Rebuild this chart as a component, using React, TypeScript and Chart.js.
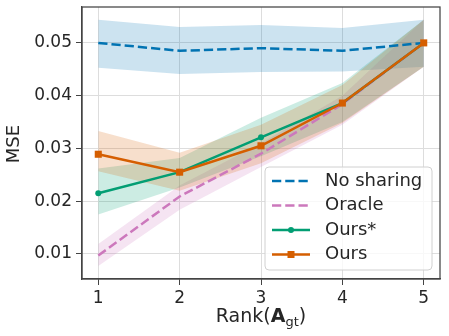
import React, { useEffect, useRef } from "react";
import { Chart, registerables } from "chart.js";

Chart.register(...registerables);

const ranks = [1, 2, 3, 4, 5];
const xTicks = [1, 2, 3, 4, 5];
const yTicks = [0.01, 0.02, 0.03, 0.04, 0.05];

const noSharing = [0.05, 0.0485, 0.049, 0.0485, 0.05];
const noSharingLo = [0.0453, 0.0441, 0.0445, 0.0446, 0.0455];
const noSharingHi = [0.0544, 0.053, 0.0534, 0.0528, 0.0544];

const oracle = [0.0097, 0.0209, 0.029, 0.0384, 0.05];
const oracleLo = [0.0077, 0.0184, 0.0265, 0.0345, 0.0455];
const oracleHi = [0.0119, 0.023, 0.031, 0.04, 0.0544];

const oursStar = [0.0215, 0.0255, 0.0321, 0.0386, 0.05];
const oursStarLo = [0.0175, 0.0226, 0.0285, 0.035, 0.0455];
const oursStarHi = [0.0262, 0.0282, 0.0358, 0.0424, 0.0544];

const ours = [0.0289, 0.0255, 0.0305, 0.0386, 0.05];
const oursLo = [0.0257, 0.022, 0.0272, 0.0348, 0.0455];
const oursHi = [0.0333, 0.0292, 0.0345, 0.042, 0.0544];

const labels = ["No sharing", "Oracle", "Ours*", "Ours"];
const colors = ["#0173b2", "#cc78bc", "#029e73", "#d55e00"];
const bandColors = [
  "rgba(1,115,178,0.2)",
  "rgba(204,120,188,0.2)",
  "rgba(2,158,115,0.2)",
  "rgba(213,94,0,0.2)",
];

const FONT = "DejaVu Sans";

const pts = (arr: number[]) => ranks.map((x, i) => ({ x, y: arr[i] }));

const decorPlugin = {
  id: "decor",
  afterDatasetsDraw(chart: any) {
    const { ctx, chartArea } = chart;
    ctx.save();
    ctx.strokeStyle = "#444444";
    ctx.lineWidth = 1.25;
    ctx.strokeRect(chartArea.left, chartArea.top, chartArea.right - chartArea.left, chartArea.bottom - chartArea.top);
    ctx.restore();
  },
  afterDraw(chart: any) {
    const { ctx } = chart;
    ctx.save();
    // legend box
    const bx = 265, by = 167, bw = 167, bh = 103, r = 4;
    ctx.beginPath();
    ctx.moveTo(bx + r, by);
    ctx.lineTo(bx + bw - r, by);
    ctx.arcTo(bx + bw, by, bx + bw, by + r, r);
    ctx.lineTo(bx + bw, by + bh - r);
    ctx.arcTo(bx + bw, by + bh, bx + bw - r, by + bh, r);
    ctx.lineTo(bx + r, by + bh);
    ctx.arcTo(bx, by + bh, bx, by + bh - r, r);
    ctx.lineTo(bx, by + r);
    ctx.arcTo(bx, by, bx + r, by, r);
    ctx.closePath();
    ctx.fillStyle = "rgba(255,255,255,0.8)";
    ctx.fill();
    ctx.strokeStyle = "#d0d0d0";
    ctx.lineWidth = 1;
    ctx.stroke();

    const rows = [181, 205.5, 230, 254.5];
    labels.forEach((lab, i) => {
      const y = rows[i];
      ctx.strokeStyle = colors[i];
      ctx.lineWidth = 2.5;
      ctx.setLineDash(i < 2 ? [9.25, 4] : []);
      ctx.beginPath();
      ctx.moveTo(272, y);
      ctx.lineTo(310, y);
      ctx.stroke();
      ctx.setLineDash([]);
      ctx.fillStyle = colors[i];
      if (i === 2) {
        ctx.beginPath();
        ctx.arc(291, y, 3, 0, Math.PI * 2);
        ctx.fill();
      } else if (i === 3) {
        ctx.fillRect(291 - 3.5, y - 3.5, 7, 7);
      }
      ctx.fillStyle = "#262626";
      ctx.font = `18px '${FONT}'`;
      ctx.textBaseline = "middle";
      ctx.textAlign = "left";
      ctx.fillText(lab, 325, y);
    });

    // x title: Rank(A_gt)
    const base = 322;
    const parts = [
      { t: "Rank(", f: `19px '${FONT}'`, dy: 0 },
      { t: "A", f: `bold 19px '${FONT}'`, dy: 0 },
      { t: "gt", f: `13px '${FONT}'`, dy: 4 },
      { t: ")", f: `19px '${FONT}'`, dy: 0 },
    ];
    let total = 0;
    parts.forEach((p) => {
      ctx.font = p.f;
      total += ctx.measureText(p.t).width;
    });
    let x = 261 - total / 2;
    ctx.fillStyle = "#262626";
    ctx.textBaseline = "alphabetic";
    ctx.textAlign = "left";
    parts.forEach((p) => {
      ctx.font = p.f;
      ctx.fillText(p.t, x, base + p.dy);
      x += ctx.measureText(p.t).width;
    });

    // y title
    ctx.save();
    ctx.translate(14, 144);
    ctx.rotate(-Math.PI / 2);
    ctx.font = `18px '${FONT}'`;
    ctx.textAlign = "center";
    ctx.textBaseline = "middle";
    ctx.fillText("MSE", 0, 0);
    ctx.restore();

    ctx.restore();
  },
};

export default function App() {
  const ref = useRef<HTMLCanvasElement>(null);

  useEffect(() => {
    if (!ref.current) return;
    Chart.defaults.font.family = FONT;
    const means = [noSharing, oracle, oursStar, ours];
    const los = [noSharingLo, oracleLo, oursStarLo, oursLo];
    const his = [noSharingHi, oracleHi, oursStarHi, oursHi];
    const datasets: any[] = [];
    means.forEach((m, i) => {
      datasets.push({
        label: labels[i] + " lo",
        data: pts(los[i]),
        borderWidth: 0,
        pointRadius: 0,
        fill: false,
        order: 20 - i * 2,
      });
      datasets.push({
        label: labels[i] + " hi",
        data: pts(his[i]),
        borderWidth: 0,
        pointRadius: 0,
        backgroundColor: bandColors[i],
        fill: "-1",
        order: 19 - i * 2,
      });
    });
    means.forEach((m, i) => {
      datasets.push({
        label: labels[i],
        data: pts(m),
        borderColor: colors[i],
        backgroundColor: colors[i],
        borderWidth: 2.5,
        borderDash: i < 2 ? [9.25, 4] : [],
        pointRadius: i === 2 ? 3 : i === 3 ? 5 : 0,
        pointStyle: i === 3 ? "rect" : "circle",
        pointBorderWidth: 0,
        fill: false,
        order: 4 - i,
      });
    });

    const chart = new Chart(ref.current, {
      type: "line",
      data: { datasets },
      plugins: [decorPlugin],
      options: {
        animation: false,
        responsive: false,
        layout: { padding: { top: 7, right: 9, left: 0, bottom: 0 } },
        plugins: {
          legend: { display: false },
          tooltip: { enabled: false },
          filler: { drawTime: "beforeDatasetsDraw" },
        } as any,
        scales: {
          x: {
            type: "linear",
            min: 0.8,
            max: 5.2,
            afterBuildTicks: (s: any) => {
              s.ticks = xTicks.map((v) => ({ value: v }));
            },
            afterFit: (s: any) => {
              s.height = 57;
              s.paddingLeft = 0;
              s.paddingRight = 0;
              s.paddingTop = 0;
              s.paddingBottom = 0;
            },
            ticks: {
              font: { size: 17, family: FONT },
              color: "#262626",
              padding: 3,
              maxRotation: 0,
              callback: (v: any) => String(v),
            },
            grid: { color: "#dddddd", lineWidth: 1, tickColor: "#444444", tickLength: 6 },
            border: { display: true, color: "#444444", width: 1.25 },
          },
          y: {
            type: "linear",
            min: 0.00526,
            max: 0.0568,
            afterBuildTicks: (s: any) => {
              s.ticks = yTicks.map((v) => ({ value: v }));
            },
            afterFit: (s: any) => {
              s.width = 82;
              s.paddingLeft = 0;
              s.paddingRight = 0;
              s.paddingTop = 0;
              s.paddingBottom = 0;
            },
            ticks: {
              font: { size: 17, family: FONT },
              color: "#262626",
              padding: 4,
              callback: (v: any) => Number(v).toFixed(2),
            },
            grid: { color: "#dddddd", lineWidth: 1, tickColor: "#444444", tickLength: 6 },
            border: { display: true, color: "#444444", width: 1.25 },
          },
        },
      },
    });
    return () => chart.destroy();
  }, []);

  return (
    <div style={{ position: "fixed", left: 0, top: 0, width: 449, height: 336, background: "#fff" }}>
      <canvas ref={ref} width={449} height={336} style={{ width: 449, height: 336 }} />
    </div>
  );
}
